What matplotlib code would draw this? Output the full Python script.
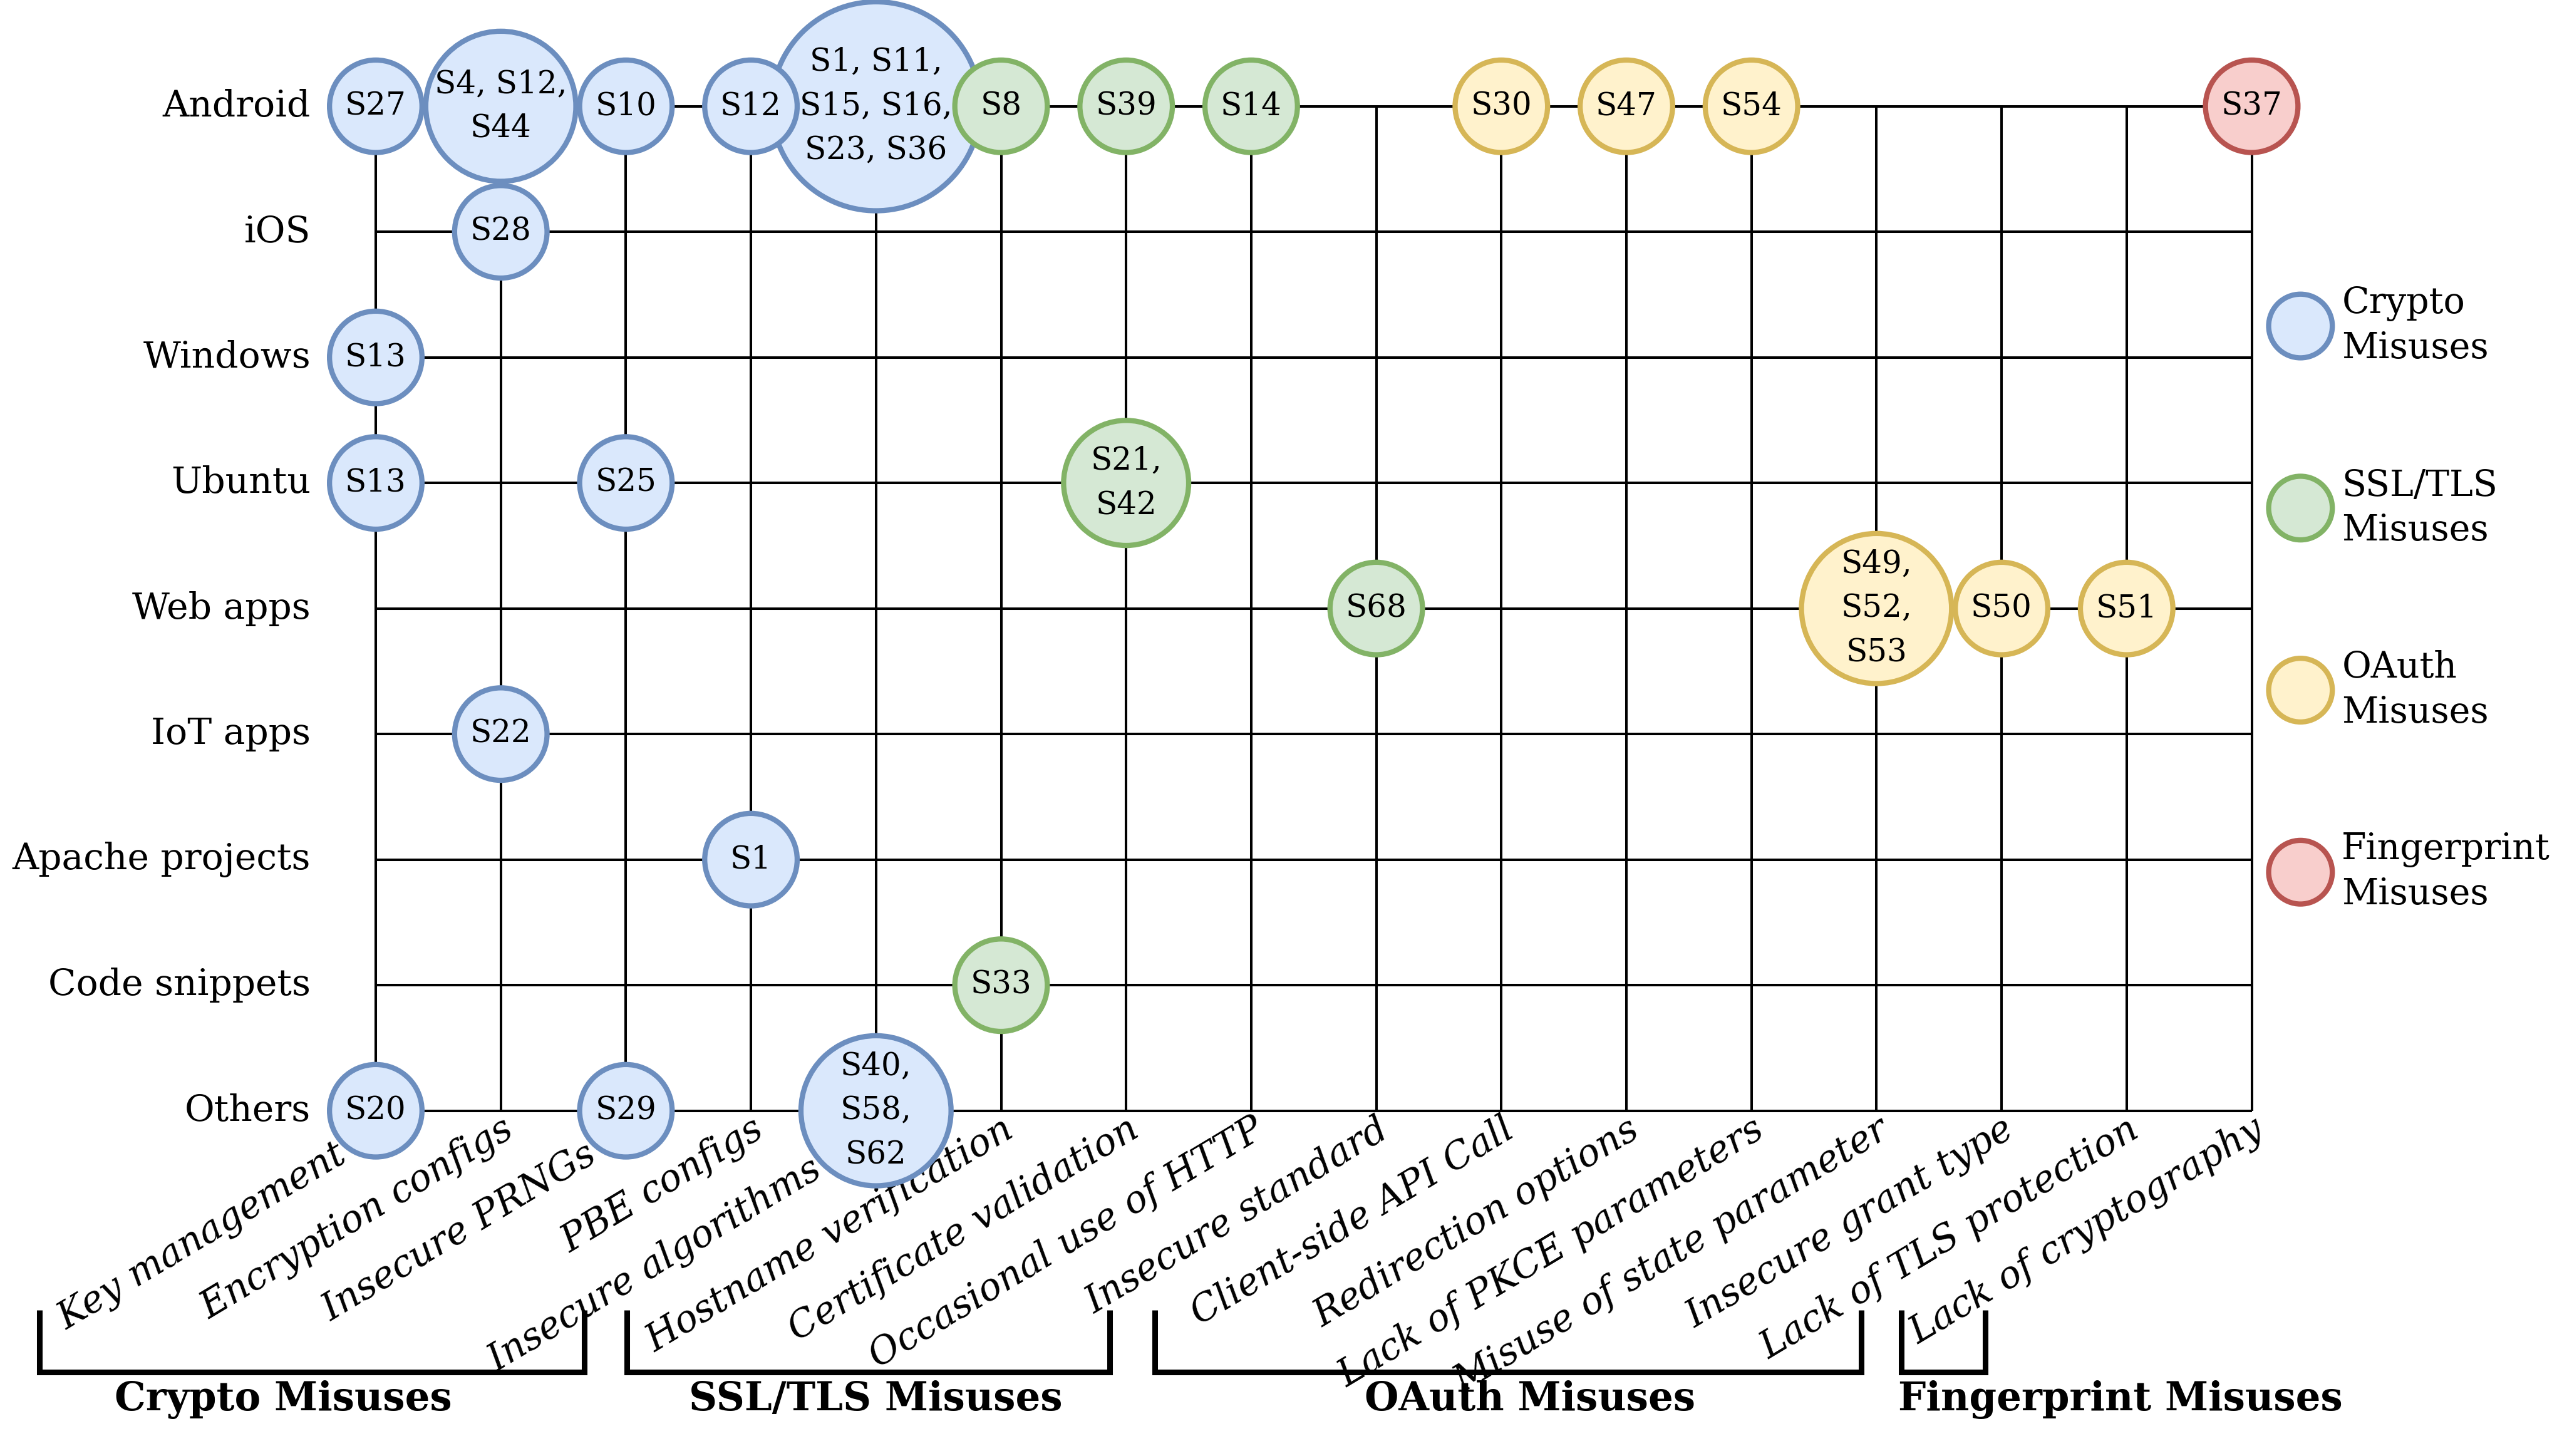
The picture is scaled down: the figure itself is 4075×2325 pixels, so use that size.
import matplotlib
matplotlib.use("Agg")
import matplotlib.pyplot as plt
from matplotlib.patches import Ellipse
import numpy as np

platforms = ["Android", "iOS", "Windows", "Ubuntu", "Web apps", "IoT apps",
             "Apache projects", "Code snippets", "Others"]

misuses = ["Key management", "Encryption configs", "Insecure PRNGs", "PBE configs",
           "Insecure algorithms", "Hostname verification", "Certificate validation",
           "Occasional use of HTTP", "Insecure standard", "Client-side API Call",
           "Redirection options", "Lack of PKCE parameters", "Misuse of state parameter",
           "Insecure grant type", "Lack of TLS protection", "Lack of cryptography"]

# one entry per circle: platform row, misuse column, studies, category
circ_row = [0, 0, 0, 0, 0, 0, 0, 0, 0, 0, 0, 0,
            1, 2, 3, 3, 3, 4, 4, 4, 4, 5, 6, 7, 8, 8, 8]
circ_col = [0, 1, 2, 3, 4, 5, 6, 7, 9, 10, 11, 15,
            1, 0, 0, 2, 6, 8, 12, 13, 14, 1, 3, 5, 0, 2, 4]
circ_text = ["S27", "S4, S12,\nS44", "S10", "S12", "S1, S11,\nS15, S16,\nS23, S36",
             "S8", "S39", "S14", "S30", "S47", "S54", "S37",
             "S28", "S13", "S13", "S25", "S21,\nS42",
             "S68", "S49,\nS52,\nS53", "S50", "S51",
             "S22", "S1", "S33", "S20", "S29", "S40,\nS58,\nS62"]
circ_cat = ["crypto", "crypto", "crypto", "crypto", "crypto",
            "ssl", "ssl", "ssl", "oauth", "oauth", "oauth", "fp",
            "crypto", "crypto", "crypto", "crypto", "ssl",
            "ssl", "oauth", "oauth", "oauth",
            "crypto", "crypto", "ssl", "crypto", "crypto", "crypto"]

legend_cats = ["crypto", "ssl", "oauth", "fp"]
legend_names = ["Crypto\nMisuses", "SSL/TLS\nMisuses", "OAuth\nMisuses", "Fingerprint\nMisuses"]

group_names = ["Crypto Misuses", "SSL/TLS Misuses", "OAuth Misuses", "Fingerprint Misuses"]

fill = {"crypto": "#dae8fc", "ssl": "#d5e8d4", "oauth": "#fff2cc", "fp": "#f8cecc"}
edge = {"crypto": "#6c8ebf", "ssl": "#82b366", "oauth": "#d6b656", "fp": "#b85450"}

# layout (pixels of the 4075x2325 canvas)
W, H, DPI = 4075, 2325, 100
PX_C, PX_R = 199.7, 200.5          # pixels per column / per row
X0, Y0 = 600, 169.7                 # pixel position of column 0 / row 0
RADIUS = {1: 78, 2: 104, 3: 124, 6: 171}
EDGE_LW = 6
ANGLE = 31

# bracket extents (in column units) and label centres
brackets = [(-2.69, 1.67, -0.74), (2.01, 5.87, 4.0), (6.23, 11.88, 9.23), (12.20, 12.87, 13.95)]

plt.rcParams['font.family'] = ['DejaVu Serif']

fig = plt.figure(figsize=(W / DPI, H / DPI), dpi=DPI)
ax = fig.add_axes([0, 0, 1, 1])
ax.set_xlim(-X0 / PX_C, (W - X0) / PX_C)
ax.set_ylim((H - Y0) / PX_R, -Y0 / PX_R)
ax.axis("off")

ncol, nrow = len(misuses), len(platforms)

# grid
for r in range(nrow):
    ax.plot([0, ncol - 1], [r, r], color="black", lw=2.9, zorder=1, solid_capstyle="butt")
for c in range(ncol):
    ax.plot([c, c], [0, nrow - 1], color="black", lw=2.9, zorder=1, solid_capstyle="butt")

edge_px = EDGE_LW * DPI / 72


def circle(x, y, r_out, cat, z=3):
    rp = r_out - edge_px / 2
    e = Ellipse((x, y), 2 * rp / PX_C, 2 * rp / PX_R, facecolor=fill[cat],
                edgecolor=edge[cat], lw=EDGE_LW, zorder=z)
    ax.add_patch(e)


# circles: smaller ones drawn on top of bigger neighbours
bottom_r = {}
for r, c, t, cat in zip(circ_row, circ_col, circ_text, circ_cat):
    n = t.count("S")
    circle(c, r, RADIUS[n], cat, z=3 + 1.0 / n)
    ax.text(c, r, t, ha="center", va="center", fontsize=36, zorder=6, linespacing=1.55)
    if r == nrow - 1:
        bottom_r[c] = RADIUS[n]

# row labels
for r, name in enumerate(platforms):
    ax.text(-0.52, r, name, ha="right", va="center", fontsize=42)

# column labels, pushed down along their direction when a circle sits at the bottom
ca, sa = np.cos(np.radians(ANGLE)), np.sin(np.radians(ANGLE))
for c, name in enumerate(misuses):
    shift = bottom_r.get(c, 0)
    x = c - shift * ca / PX_C
    y = nrow - 1 + shift * sa / PX_R
    ax.text(x, y, name, rotation=ANGLE, rotation_mode="anchor", ha="right", va="top",
            fontsize=43, style="italic")

# group brackets
for (left, right, mid), name in zip(brackets, group_names):
    ax.plot([left, left, right, right], [9.59, 10.08, 10.08, 9.59], color="black",
            lw=6.5, solid_joinstyle="miter", solid_capstyle="butt")
    ax.text(mid, 10.30, name, ha="center", va="center", fontsize=45, fontweight="bold")

# legend
for i, (cat, name) in enumerate(zip(legend_cats, legend_names)):
    y = 1.75 + 1.45 * i
    circle(15.39, y, 55, cat)
    ax.text(15.72, y, name, ha="left", va="center", fontsize=41, linespacing=1.35)

fig.savefig("out.png", dpi=DPI)
